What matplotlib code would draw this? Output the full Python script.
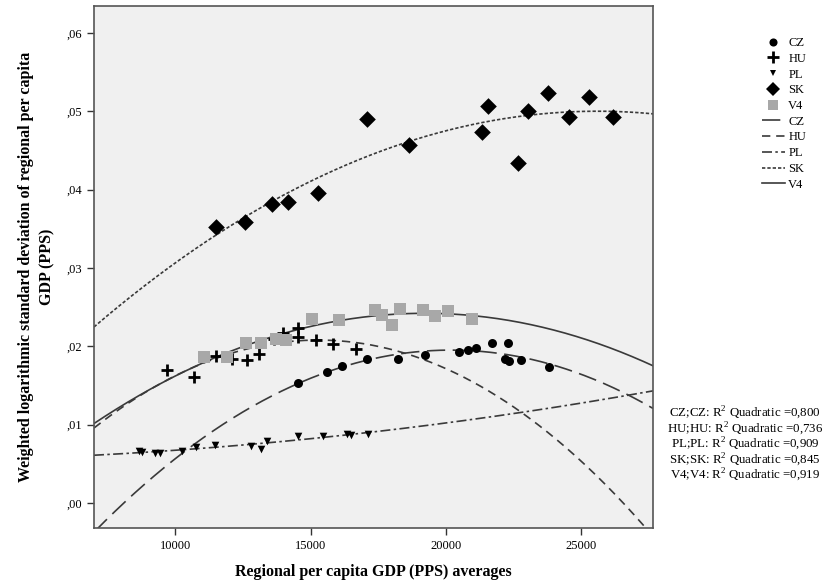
import numpy as np
import matplotlib
matplotlib.use("Agg")
import matplotlib.pyplot as plt
from matplotlib.lines import Line2D
from matplotlib.ticker import FuncFormatter

plt.rcParams['font.family'] = ['Liberation Serif', 'DejaVu Serif']
plt.rcParams['mathtext.fontset'] = 'custom'
plt.rcParams['mathtext.rm'] = 'Liberation Serif'

# ---- data ----
cz_x = [14550, 15598, 16151, 17074, 18240, 19225, 20480, 20801, 21107, 21708, 22299, 22177, 22325, 22756, 23801]
cz_y = [0.01535, 0.01671, 0.01748, 0.01842, 0.01842, 0.01889, 0.01927, 0.01953, 0.01979, 0.02038, 0.02038, 0.01842, 0.01812, 0.01824, 0.01740]

hu_x = [9694, 10712, 11513, 12092, 12646, 13111, 13664, 13974, 14528, 14528, 15203, 15819, 16679]
hu_y = [0.01700, 0.01615, 0.01875, 0.01842, 0.01824, 0.01897, 0.02100, 0.02175, 0.02240, 0.02120, 0.02085, 0.02035, 0.01965]

pl_x = [8646, 8771, 9262, 9446, 10247, 10775, 11476, 12804, 13162, 13384, 14550, 15472, 16336, 16483, 17133]
pl_y = [0.00667, 0.00650, 0.00637, 0.00637, 0.00667, 0.00714, 0.00744, 0.00731, 0.00688, 0.00786, 0.00850, 0.00850, 0.00880, 0.00872, 0.00880]

sk_x = [11502, 12583, 13568, 14159, 15266, 17096, 18635, 21317, 21561, 22668, 23037, 23775, 24550, 25277, 26173]
sk_y = [0.03522, 0.03588, 0.03821, 0.03846, 0.03962, 0.04906, 0.04573, 0.04731, 0.05073, 0.04346, 0.05008, 0.05231, 0.04932, 0.05181, 0.04932]

v4_x = [11081, 11908, 12620, 13173, 13727, 14096, 15044, 16052, 17380, 17627, 17996, 18303, 19162, 19594, 20085, 20948]
v4_y = [0.01867, 0.01867, 0.02038, 0.02047, 0.02099, 0.02081, 0.02355, 0.02333, 0.02462, 0.02397, 0.02278, 0.02478, 0.02470, 0.02393, 0.02449, 0.02350]

series_names = ["CZ", "HU", "PL", "SK", "V4"]
r2_values = ["0,800", "0,736", "0,909", "0,845", "0,919"]
x_ticks = [10000, 15000, 20000, 25000]
y_ticks = [0.00, 0.01, 0.02, 0.03, 0.04, 0.05, 0.06]

# ---- figure ----
fig = plt.figure(figsize=(8.26, 5.83), dpi=100)
ax = fig.add_axes([94/826, 1-528/583, (653-94)/826, (528-6)/583])
ax.set_facecolor('#f0f0f0')

xmin, xmax = 7000, 27650
ymin, ymax = -0.00319, 0.06345
ax.set_xlim(xmin, xmax)
ax.set_ylim(ymin, ymax)

lc = '#3a3a3a'
styles = {
    "CZ": dict(marker='o', s=42, color='black', dash=(11, 4.5)),
    "HU": dict(marker='+', s=85, color='black', dash=(5, 3.5)),
    "PL": dict(marker='v', s=30, color='black', dash=(6, 2, 1.5, 2)),
    "SK": dict(marker='D', s=72, color='black', dash=(2, 1.2)),
    "V4": dict(marker='s', s=64, color='#a8a8a8', dash=None),
}
data = {"CZ": (cz_x, cz_y), "HU": (hu_x, hu_y), "PL": (pl_x, pl_y),
        "SK": (sk_x, sk_y), "V4": (v4_x, v4_y)}

xs = np.linspace(xmin, xmax, 400)
for name in series_names:
    x, y = data[name]
    st = styles[name]
    coef = np.polyfit(x, y, 2)
    ys = np.polyval(coef, xs)
    ln, = ax.plot(xs, ys, color=lc, lw=1.2, zorder=2)
    if st['dash'] is not None:
        ln.set_dashes(st['dash'])

for name in series_names:
    x, y = data[name]
    st = styles[name]
    if st['marker'] == '+':
        ax.scatter(x, y, marker='+', s=st['s'], color=st['color'], linewidths=2.0, zorder=3)
    else:
        ax.scatter(x, y, marker=st['marker'], s=st['s'], color=st['color'], linewidths=0, zorder=3)

ax.set_xticks(x_ticks)
ax.set_yticks(y_ticks)
ax.xaxis.set_major_formatter(FuncFormatter(lambda v, p: f"{int(v)}"))
ax.yaxis.set_major_formatter(FuncFormatter(lambda v, p: ("%.2f" % v)[1:].replace('.', ',')))
ax.tick_params(axis='both', direction='out', length=5, width=1, colors='#333333', labelsize=9, labelcolor='black')
for sp in ax.spines.values():
    sp.set_color('#555555')
    sp.set_linewidth(1.2)

ax.set_xlabel("Regional per capita GDP (PPS) averages", fontsize=11.5, fontweight='bold', labelpad=9)
ax.set_ylabel("Weighted logarithmic standard deviation of regional per capita\nGDP (PPS)",
              fontsize=11.5, fontweight='bold', labelpad=8, linespacing=1.45)

# legend
handles = []
labels = []
for name in series_names:
    st = styles[name]
    handles.append(Line2D([], [], linestyle='none', marker=st['marker'], color=st['color'],
                          markersize=np.sqrt(st['s']) * (0.9 if st['marker'] != '+' else 1.0),
                          markeredgewidth=2.0 if st['marker'] == '+' else 0))
    labels.append(name)
for name in series_names:
    st = styles[name]
    h = Line2D([], [], color=lc, lw=1.2)
    if st['dash'] is not None:
        h.set_dashes(st['dash'])
    handles.append(h)
    labels.append(name)

fig.legend(handles, labels, loc='upper left', bbox_to_anchor=(757/826, 1-32/583),
           frameon=False, fontsize=9, handlelength=1.8, handletextpad=0.3,
           labelspacing=0.3, borderaxespad=0)

for i, (n, r) in enumerate(zip(series_names, r2_values)):
    fig.text(745/826, 1-(413 + i*15.5)/583, f"{n};{n}: R$^2$ Quadratic ={r}",
             fontsize=9.3, ha='center', va='center')

fig.savefig("out.png", dpi=100)
